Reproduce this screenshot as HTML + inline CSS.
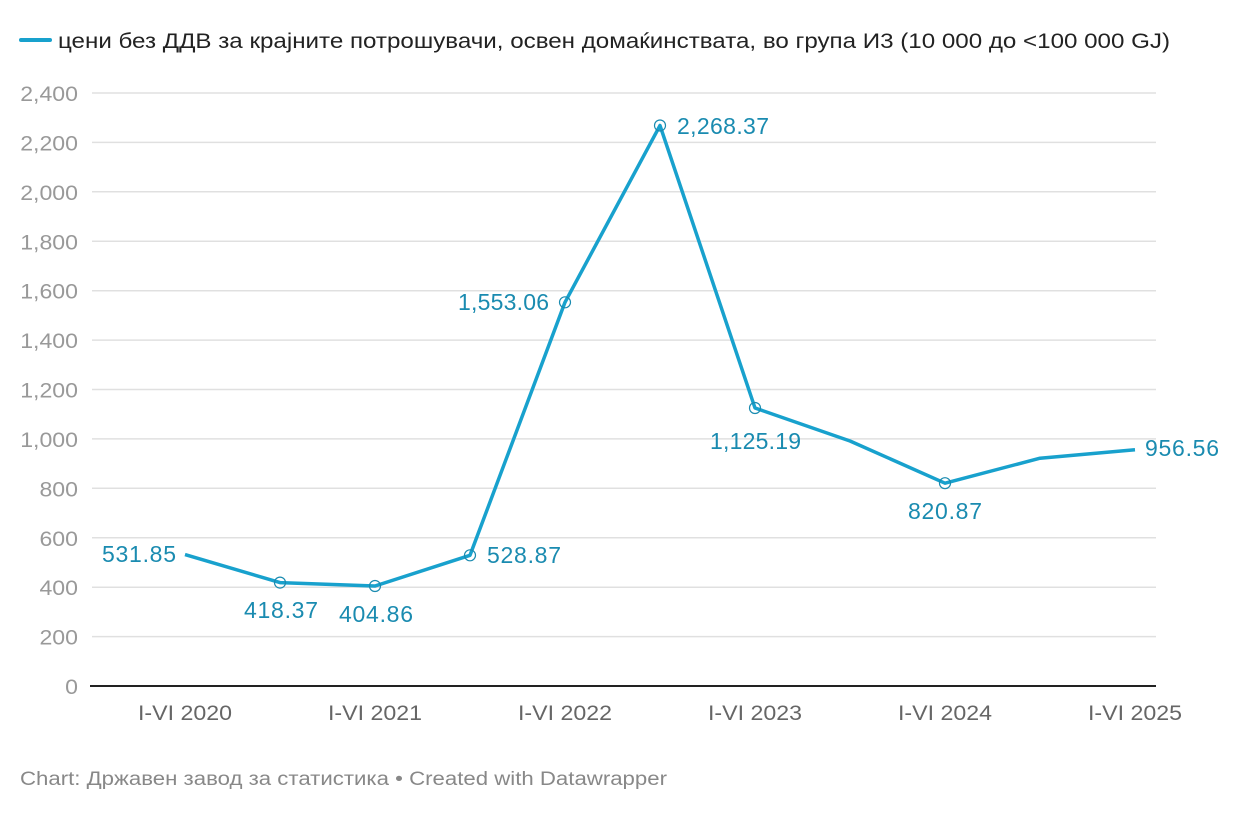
<!DOCTYPE html>
<html><head><meta charset="utf-8"><style>
body{margin:0;background:#fff;width:1240px;height:812px;overflow:hidden;font-family:"Liberation Sans",sans-serif}
</style></head><body>
<svg width="1240" height="812" xmlns="http://www.w3.org/2000/svg" font-family="Liberation Sans, sans-serif">
<line x1="21" y1="40" x2="50" y2="40" stroke="#18a1cd" stroke-width="4" stroke-linecap="round"/>
<text x="58" y="48" font-size="21" fill="#222" textLength="1112" lengthAdjust="spacingAndGlyphs">цени без ДДВ за крајните потрошувачи, освен домаќинствата, во група И3 (10 000 до &lt;100 000 GJ)</text>
<g stroke="#e0e0e0" stroke-width="1.5">
<line x1="92" x2="1156" y1="93" y2="93"/><line x1="92" x2="1156" y1="142.4" y2="142.4"/><line x1="92" x2="1156" y1="191.8" y2="191.8"/><line x1="92" x2="1156" y1="241.3" y2="241.3"/><line x1="92" x2="1156" y1="290.7" y2="290.7"/><line x1="92" x2="1156" y1="340.1" y2="340.1"/><line x1="92" x2="1156" y1="389.5" y2="389.5"/><line x1="92" x2="1156" y1="438.9" y2="438.9"/><line x1="92" x2="1156" y1="488.3" y2="488.3"/><line x1="92" x2="1156" y1="537.8" y2="537.8"/><line x1="92" x2="1156" y1="587.2" y2="587.2"/><line x1="92" x2="1156" y1="636.6" y2="636.6"/>
</g>
<line x1="90" x2="1156" y1="686" y2="686" stroke="#222" stroke-width="2"/>
<g font-size="21" fill="#999" text-anchor="end" transform="translate(78,0) scale(1.1,1) translate(-78,0)">
<text x="78" y="101">2,400</text><text x="78" y="150.4">2,200</text><text x="78" y="199.8">2,000</text><text x="78" y="249.3">1,800</text><text x="78" y="298.7">1,600</text><text x="78" y="348.1">1,400</text><text x="78" y="397.5">1,200</text><text x="78" y="446.9">1,000</text><text x="78" y="496.3">800</text><text x="78" y="545.8">600</text><text x="78" y="595.2">400</text><text x="78" y="644.6">200</text><text x="78" y="694">0</text>
</g>
<g font-size="21" fill="#666" text-anchor="middle">
<text x="185" y="720" textLength="94" lengthAdjust="spacingAndGlyphs">I-VI 2020</text><text x="375" y="720" textLength="94" lengthAdjust="spacingAndGlyphs">I-VI 2021</text><text x="565" y="720" textLength="94" lengthAdjust="spacingAndGlyphs">I-VI 2022</text><text x="755" y="720" textLength="94" lengthAdjust="spacingAndGlyphs">I-VI 2023</text><text x="945" y="720" textLength="94" lengthAdjust="spacingAndGlyphs">I-VI 2024</text><text x="1135" y="720" textLength="94" lengthAdjust="spacingAndGlyphs">I-VI 2025</text>
</g>
<polyline fill="none" stroke="#18a1cd" stroke-width="3.5" stroke-linejoin="round" points="185,554.6 280,582.6 375,586 470,555.3 565,302.3 660,125.5 755,408 850,441 945,483.2 1040,458.2 1135,449.7"/>
<g fill="none" stroke="#1a8bb0" stroke-width="1.2">
<circle cx="280" cy="582.6" r="5.5"/><circle cx="375" cy="586" r="5.5"/><circle cx="470" cy="555.3" r="5.5"/><circle cx="565" cy="302.3" r="5.5"/><circle cx="660" cy="125.5" r="5.5"/><circle cx="755" cy="408" r="5.5"/><circle cx="945" cy="483.2" r="5.5"/>
</g>
<g font-size="23" fill="#1a8bb0" lengthAdjust="spacingAndGlyphs">
<text x="102" y="562" textLength="74">531.85</text>
<text x="244" y="618" textLength="74">418.37</text>
<text x="339" y="622" textLength="74">404.86</text>
<text x="487" y="563" textLength="74">528.87</text>
<text x="458" y="310" textLength="91">1,553.06</text>
<text x="677" y="134" textLength="92">2,268.37</text>
<text x="710" y="449" textLength="91">1,125.19</text>
<text x="908" y="519" textLength="74">820.87</text>
<text x="1145" y="456" textLength="74">956.56</text>
</g>
<text x="20" y="785" font-size="19" fill="#888" textLength="647" lengthAdjust="spacingAndGlyphs">Chart: Државен завод за статистика • Created with Datawrapper</text>
</svg>
</body></html>
